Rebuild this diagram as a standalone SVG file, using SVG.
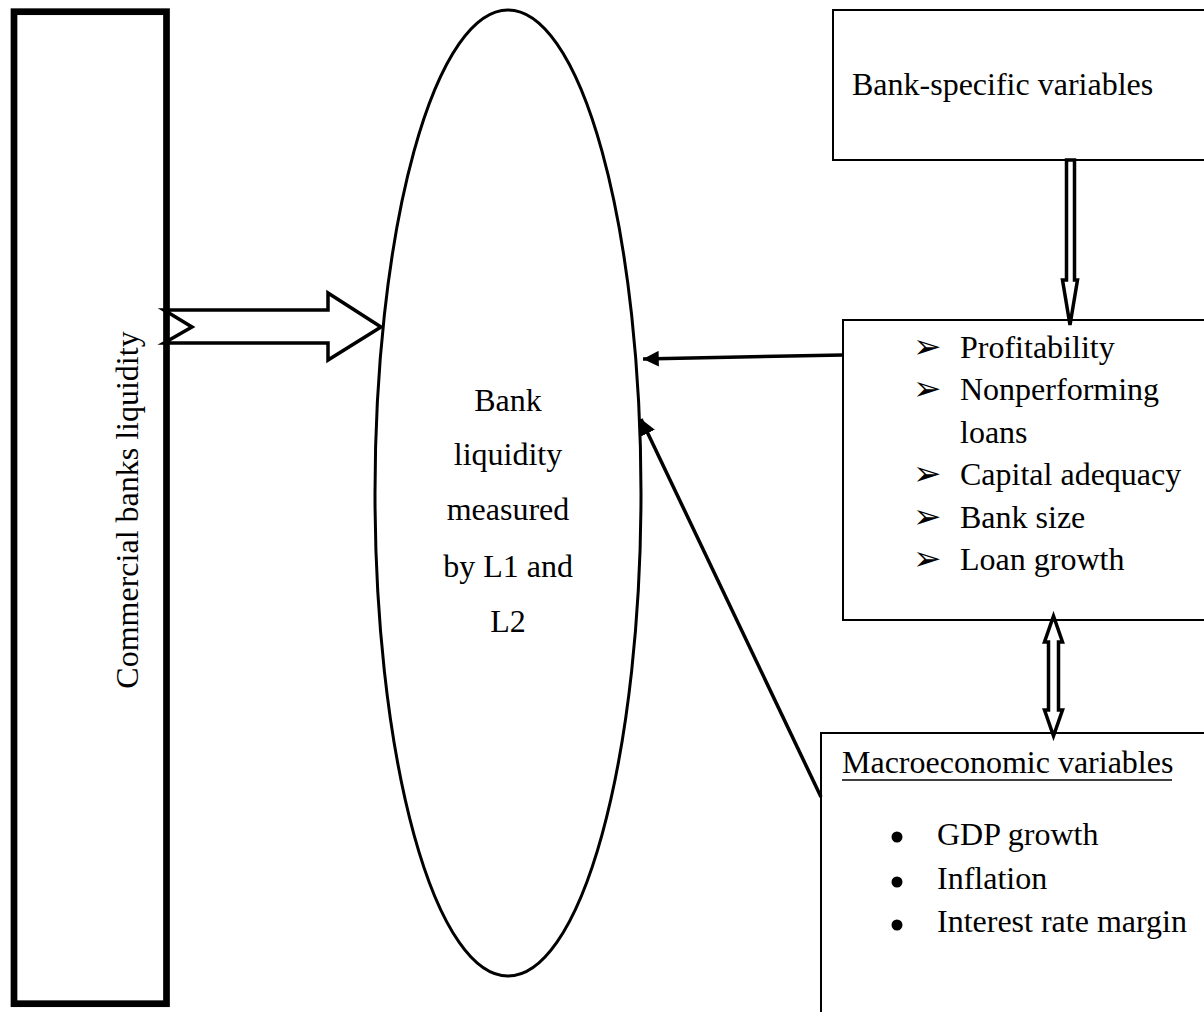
<svg xmlns="http://www.w3.org/2000/svg" width="1204" height="1012" viewBox="0 0 1204 1012">
<style>
  .t { font-family: "Liberation Serif", "Times New Roman", serif; font-size: 32px; fill: #000; }
  .box { fill: #fff; stroke: #000; stroke-width: 2; }
  .blk { fill: #fff; stroke: #000; stroke-width: 3.5; stroke-linejoin: miter; }
  .ln { stroke: #000; stroke-width: 3.5; fill: none; }
  .arr { font-family: "DejaVu Sans", sans-serif; font-size: 34px; fill: #000; }
</style>
<defs>
  <marker id="ah" viewBox="0 0 10 10" refX="10" refY="5" markerWidth="4.5" markerHeight="4.5" orient="auto" markerUnits="strokeWidth">
    <path d="M0,0 L10,5 L0,10 Z" fill="#000"/>
  </marker>
</defs>
<rect width="1204" height="1012" fill="#fff"/>

<g id="commercial-banks">
  <rect x="14" y="11.7" width="152.5" height="992" fill="#fff" stroke="#000" stroke-width="6.7"/>
  <text class="t" text-anchor="middle" transform="translate(138,510) rotate(-90)">Commercial banks liquidity</text>
</g>

<g id="bank-liquidity">
  <ellipse cx="508" cy="493" rx="133" ry="483" fill="#fff" stroke="#000" stroke-width="3"/>
  <text class="t" text-anchor="middle" x="508" y="411">Bank</text>
  <text class="t" text-anchor="middle" x="508" y="465">liquidity</text>
  <text class="t" text-anchor="middle" x="508" y="520">measured</text>
  <text class="t" text-anchor="middle" x="508" y="577">by L1 and</text>
  <text class="t" text-anchor="middle" x="508" y="632">L2</text>
</g>

<g id="bank-specific">
  <rect class="box" x="833" y="10" width="380" height="150"/>
  <text class="t" x="852" y="95">Bank-specific variables</text>
</g>

<g id="bank-specific-list">
  <rect class="box" x="843" y="320" width="370" height="300"/>
  <text class="arr" x="913" y="358">➢</text>
  <text class="t" x="960" y="358">Profitability</text>
  <text class="arr" x="913" y="400">➢</text>
  <text class="t" x="960" y="400">Nonperforming</text>
  <text class="t" x="960" y="443">loans</text>
  <text class="arr" x="913" y="485">➢</text>
  <text class="t" x="960" y="485">Capital adequacy</text>
  <text class="arr" x="913" y="528">➢</text>
  <text class="t" x="960" y="528">Bank size</text>
  <text class="arr" x="913" y="570">➢</text>
  <text class="t" x="960" y="570">Loan growth</text>
</g>

<g id="macroeconomic">
  <rect class="box" x="821" y="733" width="392" height="300"/>
  <text class="t" x="842" y="773">Macroeconomic variables</text>
  <line x1="842" y1="780" x2="1172" y2="780" stroke="#000" stroke-width="1.6"/>
  <circle cx="897" cy="837" r="5.5" fill="#000"/>
  <text class="t" x="937" y="845">GDP growth</text>
  <circle cx="897" cy="882" r="5.5" fill="#000"/>
  <text class="t" x="937" y="889">Inflation</text>
  <circle cx="897" cy="925" r="5.5" fill="#000"/>
  <text class="t" x="937" y="932">Interest rate margin</text>
</g>

<g id="connectors">
  <polygon class="blk" points="164,310 328,310 328,293 381,327 328,360 328,343 164,343 192,327"/>
  <polygon class="blk" stroke-width="3" points="1066.5,160 1074.5,160 1074.5,280 1077.5,280 1070,325 1062.5,280 1066.5,280"/>
  <polygon class="blk" stroke-width="3" points="1053.5,616 1062.5,642 1058.5,642 1058.5,710 1062.5,710 1053.5,736 1044.5,710 1048.5,710 1048.5,642 1044.5,642"/>
  <line class="ln" x1="843" y1="355" x2="643" y2="359" marker-end="url(#ah)"/>
  <line class="ln" x1="821" y1="797" x2="641" y2="419" marker-end="url(#ah)"/>
</g>
</svg>
